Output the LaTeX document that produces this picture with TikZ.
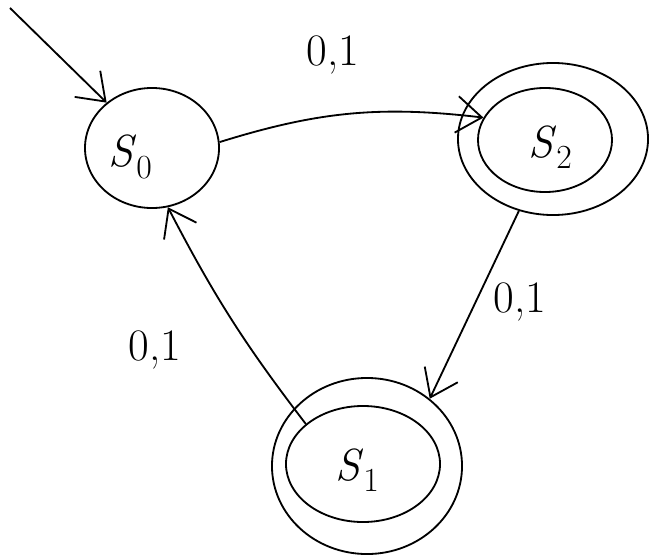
\documentclass[tikz,border=0pt]{standalone}
\usepackage{fontspec}
\usepackage{tikz}
\usetikzlibrary{shapes.geometric,arrows.meta}
\newcommand{\stname}[1]{\textit{S}\raisebox{-0.25em}{\fontsize{24}{26}\selectfont #1}}

\begin{document}
\begin{tikzpicture}[x=0.025cm,y=-0.025cm,line width=1.3pt,
    >={Straight Barb[length=18pt,width=26pt]},
    every node/.style={font=\fontsize{32}{36}\selectfont},
    state/.style={draw,ellipse,inner sep=0pt}]
    \useasboundingbox (0,0) rectangle (649,558);
    % states
    \node[state,minimum width=3.35cm,minimum height=3cm] (s0) at (152,148) {};
    \node[state,minimum width=4.75cm,minimum height=3.8cm] (s2) at (553,139) {};
    \node[state,minimum width=3.35cm,minimum height=2.6cm] (s2in) at (545,140) {};
    \node[state,minimum width=4.75cm,minimum height=4.4cm] (s1) at (367,466) {};
    \node[state,minimum width=3.85cm,minimum height=2.9cm] (s1in) at (363,464) {};
    \node (t0) at (130,157) {\stname{0}};
    \node (t2) at (550,147) {\stname{2}};
    \node (t1) at (357,470) {\stname{1}};
    % labels
    \node (a02) at (333,55) {0,1};
    \node (a21) at (520,302) {0,1};
    \node (a10) at (155,350) {0,1};
    \coordinate (start) at (10,8);
    \draw [->] (start) -- (s0.135);
    \draw [->] (s0.5) to[bend left=12] (s2in.160);
    \draw [->] (s2) -- (s1.47);
    \draw [->] (s1in.145) to[bend left=5] (s0.-75);
  \end{tikzpicture}
\end{document}
